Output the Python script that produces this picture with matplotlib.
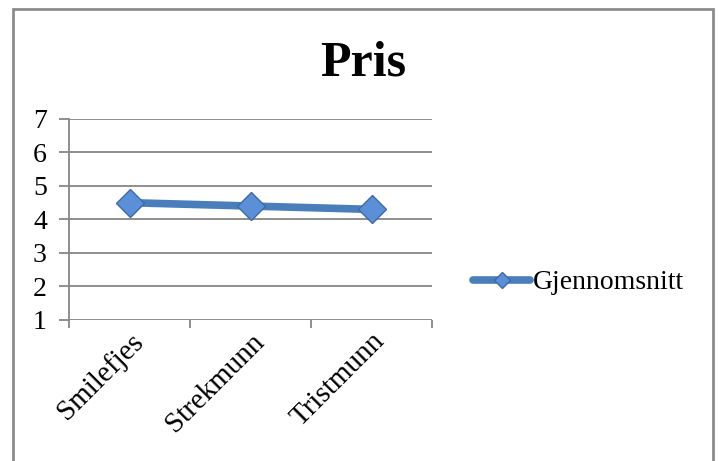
import matplotlib.pyplot as plt
from matplotlib.patches import Rectangle

categories = ['Smilefjes', 'Strekmunn', 'Tristmunn']
values = [4.5, 4.4, 4.3]
series_name = 'Gjennomsnitt'
title = 'Pris'

plt.rcParams['font.family'] = ['Liberation Serif', 'DejaVu Serif']

fig = plt.figure(figsize=(7.19, 4.61), dpi=100)
ax = fig.add_axes([0.096, 0.306, 0.505, 0.436])

# outer chart border (bottom edge falls outside the picture)
fig.patches.append(Rectangle((13/719, -0.1), 700/719, 1.1 - 9/461,
                             transform=fig.transFigure, fill=False,
                             edgecolor='#8c8c8c', lw=2))

x = [i + 0.5 for i in range(len(categories))]
ax.plot(x, values, color='#4a7ebb', lw=5.5, solid_capstyle='round',
        marker='D', markersize=14, markerfacecolor='#5b8fd8',
        markeredgecolor='#3d6aa6', markeredgewidth=1, label=series_name, zorder=3)

ax.set_xlim(0, 3)
ax.set_ylim(1, 7)
ax.set_yticks(range(1, 8))
ax.set_xticks([0, 1, 2, 3])
ax.set_xticklabels([])
ax.set_xticks(x, minor=True)
ax.set_xticklabels(categories, minor=True, rotation=45, ha='right', va='top',
                   rotation_mode='anchor', fontsize=21)
ax.tick_params(axis='x', which='minor', length=0, pad=6)
ax.tick_params(axis='x', which='major', length=6, width=1.3, color='#868686')
ax.tick_params(axis='y', length=7, width=1.3, color='#868686', labelsize=20, pad=9)

ax.grid(axis='y', color='#868686', lw=1.3)
ax.set_axisbelow(True)
for s in ['top', 'right', 'bottom']:
    ax.spines[s].set_visible(False)
ax.spines['left'].set_color('#868686')
ax.spines['left'].set_linewidth(1.3)

fig.text(0.505, 0.862, title, fontsize=36, fontweight='bold', ha='center', va='center')

ax.legend(loc='center left', bbox_to_anchor=(1.113, 0.185), frameon=False,
          fontsize=20, handlelength=2.05, handletextpad=0.1, borderaxespad=0,
          borderpad=0, markerscale=0.6)

fig.savefig('out.png', dpi=100)
